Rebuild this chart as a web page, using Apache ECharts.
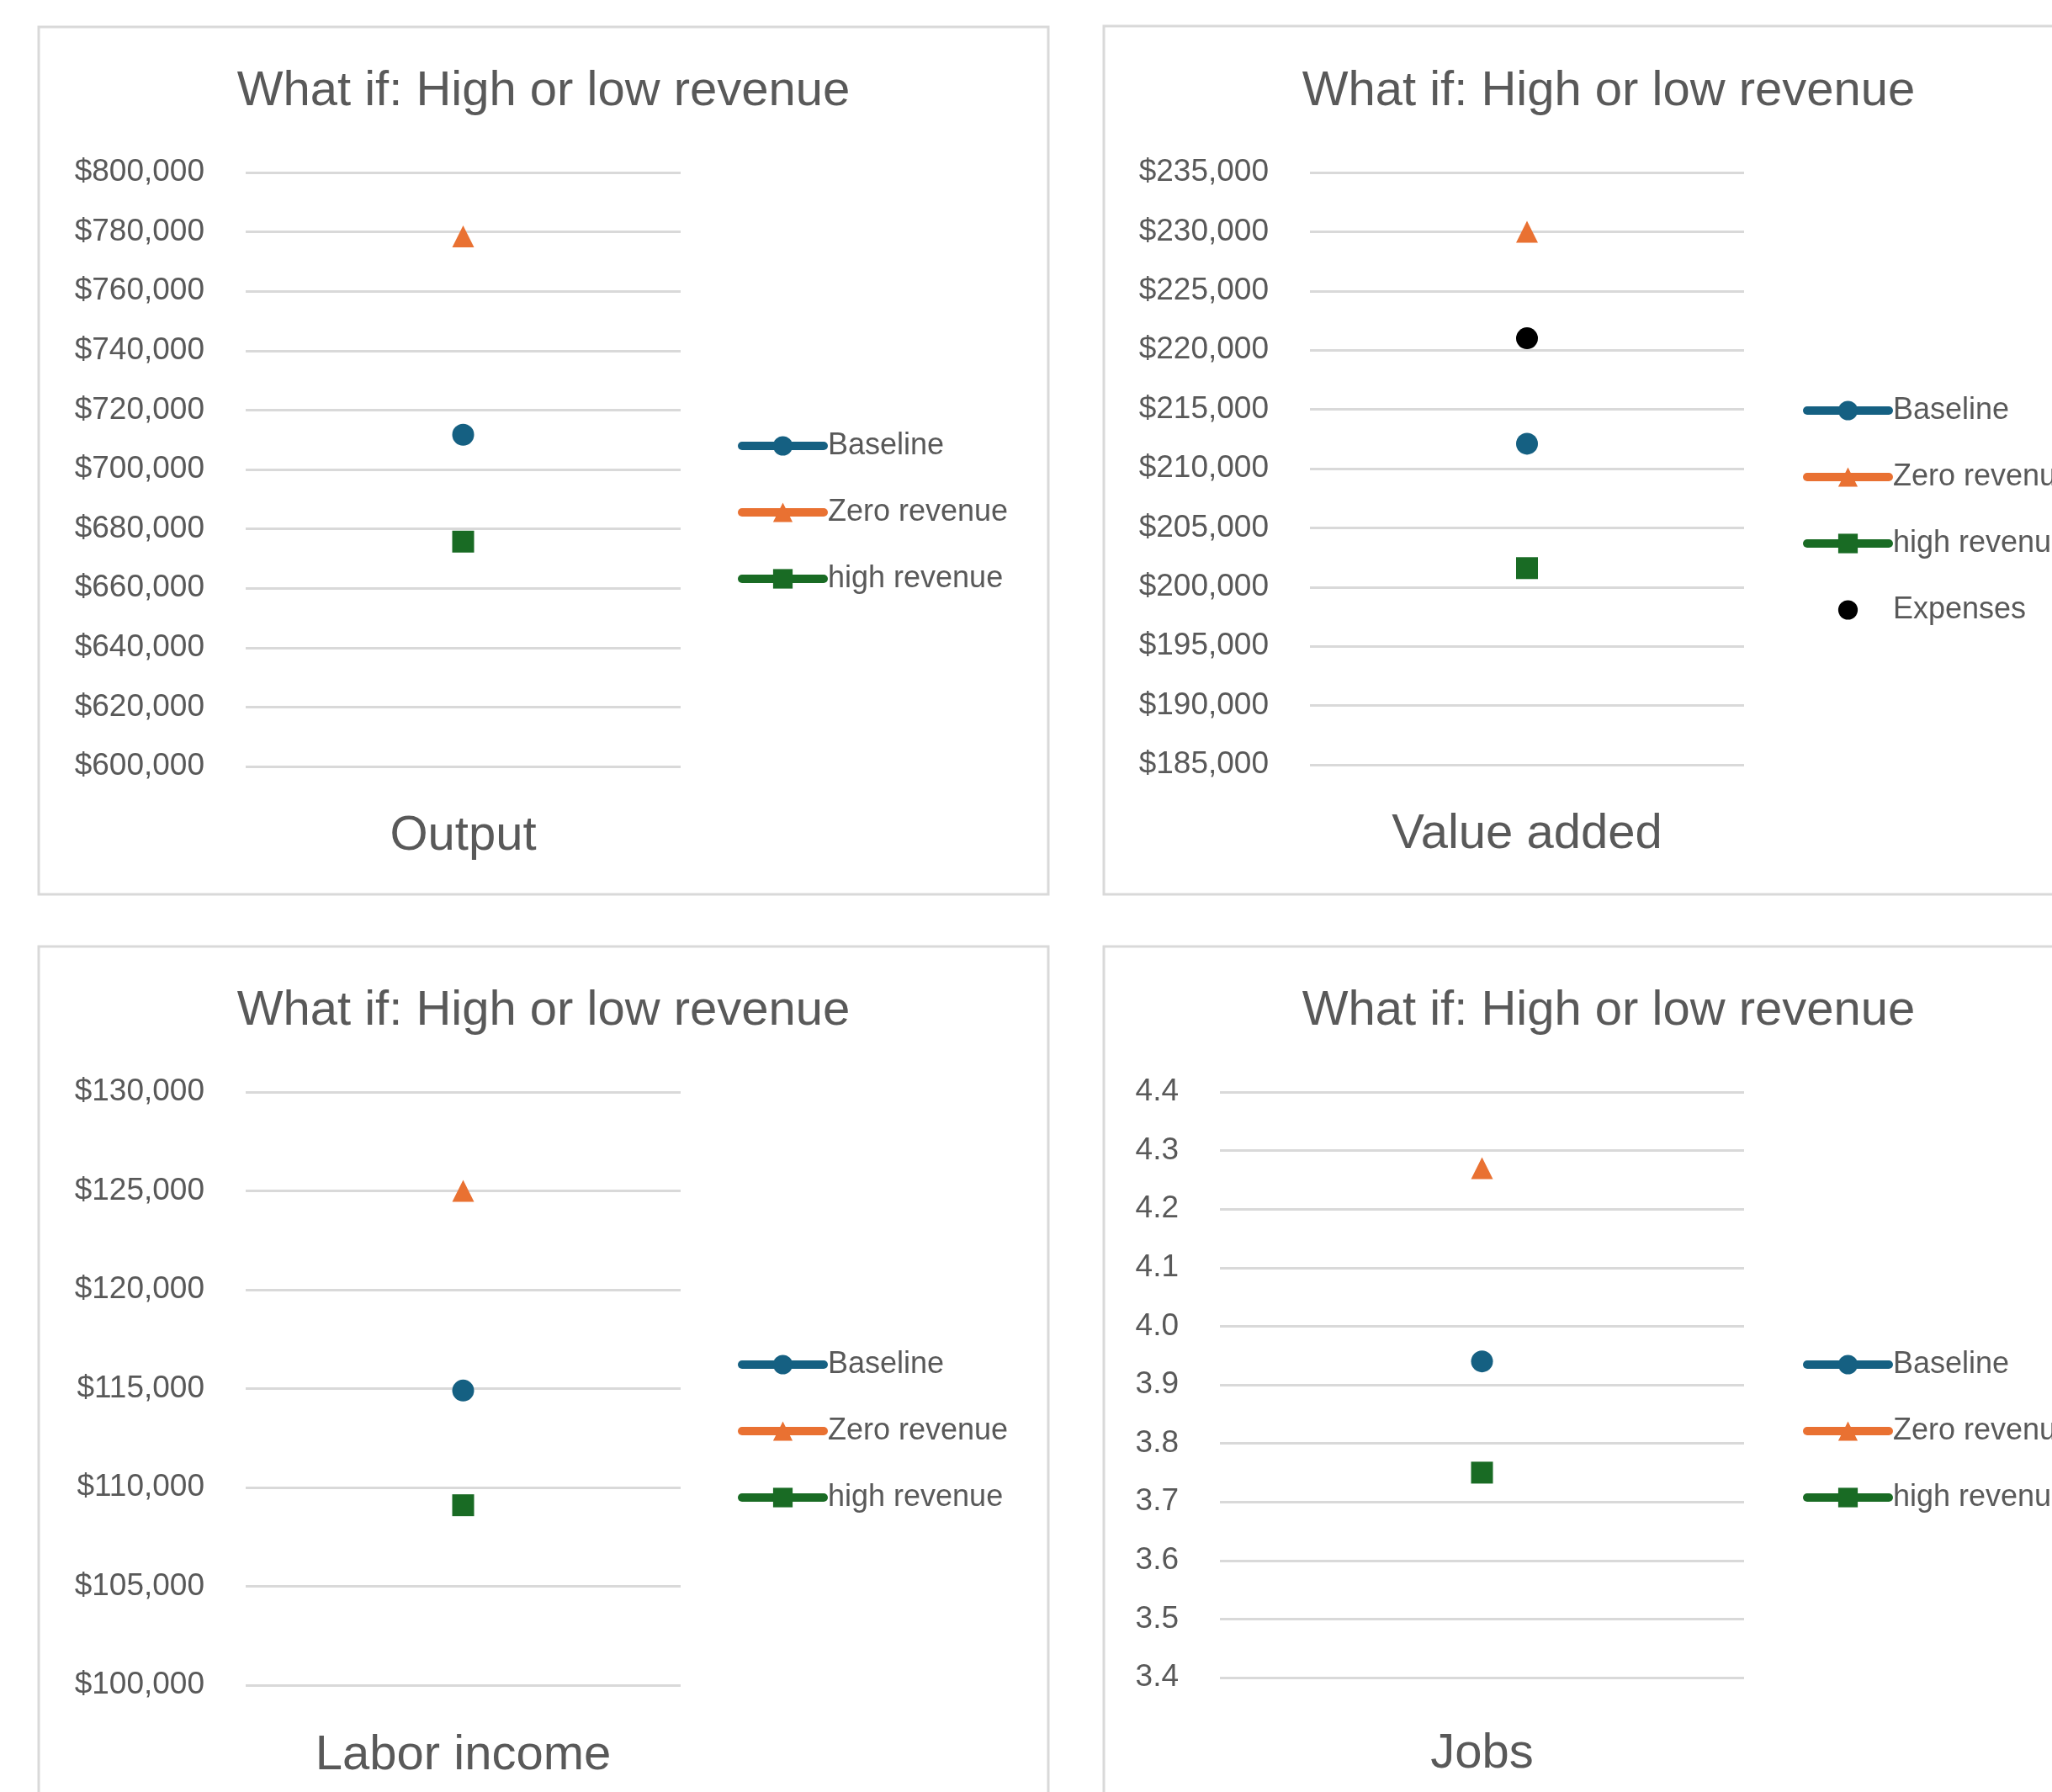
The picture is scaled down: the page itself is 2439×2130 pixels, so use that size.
<!DOCTYPE html>
<html><head><meta charset="utf-8">
<script src="https://cdn.jsdelivr.net/npm/echarts@6/dist/echarts.min.js"></script>
<style>html,body{margin:0;padding:0;background:#fff}#c{width:2439px;height:2130px}</style>
</head><body><div id="c"></div>
<script>
// ---- data ----
const categories = ['Output', 'Value added', 'Labor income', 'Jobs'];
const baseline = [711700, 212100, 114900, 3.94];
const zeroRevenue = [778500, 230000, 125000, 4.27];
const highRevenue = [675700, 201600, 109100, 3.75];
const expenses = [null, 221000, null, null];
const yMin = [600000, 185000, 100000, 3.4];
const yMax = [800000, 235000, 130000, 4.4];
const yStep = [20000, 5000, 5000, 0.1];
const titleText = 'What if: High or low revenue';
const seriesNames = ['Baseline', 'Zero revenue', 'high revenue', 'Expenses'];

// ---- layout / style ----
const FONT = '"Liberation Sans", Arial, sans-serif';
const TXT = '#595959';
const GRIDC = '#D9D9D9';
const colors = { 'Baseline': '#156082', 'Zero revenue': '#E97132', 'high revenue': '#196B24', 'Expenses': '#000000' };
const symbols = { 'Baseline': 'circle', 'Zero revenue': 'triangle', 'high revenue': 'rect', 'Expenses': 'circle' };

const panels = [
  { box: [46, 32, 1200, 1031], grid: { left: 292, top: 205, width: 517, height: 706 }, tx: 646, ty: 80, lg: { left: 877, top: 512 }, margin: 54 },
  { box: [1312, 31, 1200, 1032], grid: { left: 1557, top: 205, width: 516, height: 704 }, tx: 1912, ty: 80, lg: { left: 2143, top: 470 }, margin: 54 },
  { box: [46, 1125, 1200, 1031], grid: { left: 292, top: 1298, width: 517, height: 705 }, tx: 646, ty: 1173, lg: { left: 877, top: 1604 }, margin: 55 },
  { box: [1312, 1125, 1200, 1031], grid: { left: 1450, top: 1298, width: 623, height: 696 }, tx: 1912, ty: 1173, lg: { left: 2143, top: 1604 }, margin: 62 }
];

function money(v) {
  return '$' + Math.round(v).toString().replace(/\B(?=(\d{3})+(?!\d))/g, ',');
}

const seriesValues = { 'Baseline': baseline, 'Zero revenue': zeroRevenue, 'high revenue': highRevenue, 'Expenses': expenses };

const option = {
  animation: false,
  backgroundColor: '#ffffff',
  title: [], grid: [], xAxis: [], yAxis: [], legend: [], series: [],
  graphic: []
};

panels.forEach((p, i) => {
  option.graphic.push({
    type: 'rect', shape: { x: p.box[0], y: p.box[1], width: p.box[2], height: p.box[3] },
    style: { fill: 'none', stroke: GRIDC, lineWidth: 3 }, z: 0
  });
  option.title.push({
    text: titleText, left: p.tx, top: p.ty, textAlign: 'center', padding: 0,
    textStyle: { fontFamily: FONT, fontSize: 58, fontWeight: 'normal', color: TXT }
  });
  option.grid.push(Object.assign({ containLabel: false, show: false }, p.grid));
  option.xAxis.push({
    type: 'category', gridIndex: i, data: [categories[i]],
    axisLine: { show: false }, axisTick: { show: false }, splitLine: { show: false },
    axisLabel: { fontFamily: FONT, fontSize: 58, color: TXT, margin: p.margin }
  });
  option.yAxis.push({
    type: 'value', gridIndex: i, min: yMin[i], max: yMax[i], interval: yStep[i],
    axisLine: { show: false }, axisTick: { show: false },
    splitLine: { show: true, lineStyle: { color: GRIDC, width: 3 } },
    axisLabel: {
      fontFamily: FONT, fontSize: 37, color: TXT, margin: 49,
      formatter: i < 3 ? (v) => money(v) : (v) => v.toFixed(1)
    }
  });
  const names = seriesNames.filter(n => seriesValues[n][i] != null);
  option.legend.push({
    orient: 'vertical', left: p.lg.left, top: p.lg.top, padding: 0,
    itemWidth: 97, itemHeight: 29, itemGap: 43, selectedMode: false,
    textStyle: { fontFamily: FONT, fontSize: 36, color: TXT },
    lineStyle: { width: 10, cap: 'round' },
    data: names.map(n => n === 'Expenses' ? { name: n, lineStyle: { width: 0, opacity: 0 } } : n)
  });
  names.forEach(n => {
    option.series.push({
      type: 'line', name: n, xAxisIndex: i, yAxisIndex: i,
      data: [seriesValues[n][i]],
      symbol: symbols[n], symbolSize: 26,
      itemStyle: { color: colors[n] },
      lineStyle: { color: colors[n], width: n === 'Expenses' ? 0 : 10, cap: 'round' },
      z: 3
    });
  });
});

const chart = echarts.init(document.getElementById('c'), null, { renderer: 'canvas' });
chart.setOption(option);
</script>
</body></html>
